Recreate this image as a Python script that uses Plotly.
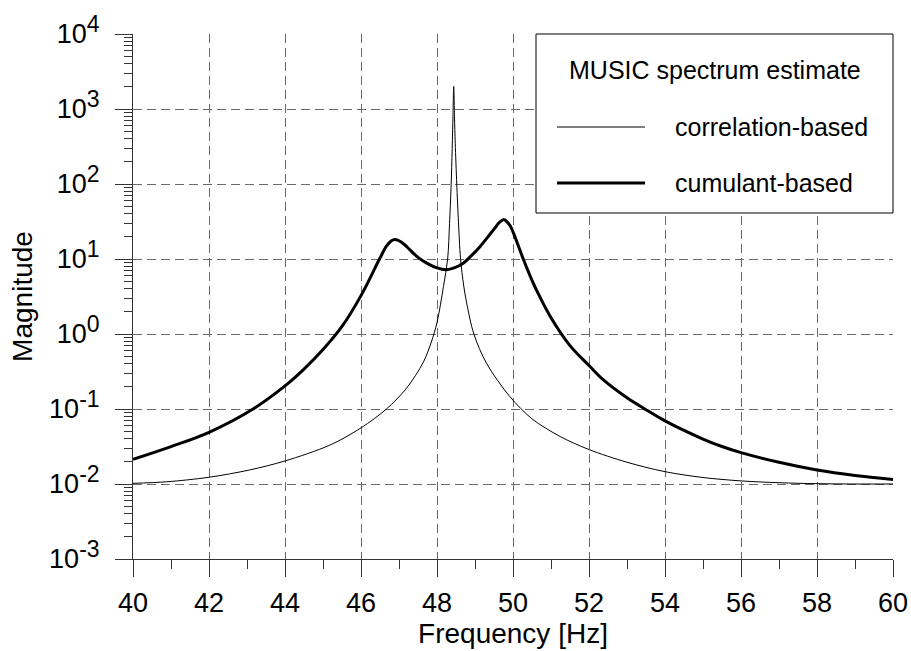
import plotly.graph_objects as go

# ---- data ----
corr_f = [40, 40.88, 42, 43.07, 44, 45.18, 46, 46.67, 47.2, 47.64, 47.85, 48.0, 48.17, 48.28,
          48.33, 48.37, 48.40, 48.42, 48.44, 48.46, 48.48, 48.52, 48.56, 48.62, 48.70,
          48.78, 48.97, 49.3, 49.92, 50.5, 51.24, 52, 53, 54, 55, 56, 57, 58, 59, 60]
corr_v = [0.0102, 0.0107, 0.0123, 0.0154, 0.0203, 0.033, 0.056, 0.10, 0.19, 0.42, 0.78, 1.42, 4.3, 10,
          30, 90, 300, 800, 2000, 800, 350, 100, 35, 10, 4.5,
          2.6, 1.0, 0.41, 0.146, 0.074, 0.043, 0.0288, 0.0195, 0.0146, 0.0122, 0.011, 0.0104, 0.0101, 0.0100, 0.0100]

cum_f = [40, 41, 42, 43.16, 44, 44.5, 45.0, 45.5, 46.0, 46.5, 46.67, 46.8, 46.89, 47.0, 47.15,
         47.29, 47.5, 47.73, 48.0, 48.25, 48.45, 48.69, 48.9, 49.13, 49.35, 49.5, 49.65, 49.76,
         49.85, 49.93, 50.0, 50.1, 50.27, 50.5, 50.71, 51.0, 51.5, 52.0, 52.38, 53.0, 53.5, 54.0,
         55.0, 55.5, 56, 57, 58, 59, 60]
cum_v = [0.0213, 0.0315, 0.0489, 0.1, 0.203, 0.34, 0.62, 1.26, 3.25, 10.3, 14.8, 17.5, 18.2, 17.5, 15.5,
         13.2, 10.5, 8.8, 7.6, 7.2, 7.6, 8.8, 11, 14.6, 20, 25, 31, 33.5,
         31, 27.5, 23, 17, 10, 5.2, 3.1, 1.65, 0.7, 0.38, 0.244, 0.141, 0.098, 0.0695,
         0.0398, 0.0316, 0.0262, 0.0195, 0.0154, 0.013, 0.0115]

x_ticks = [40, 42, 44, 46, 48, 50, 52, 54, 56, 58, 60]
y_exps = [-3, -2, -1, 0, 1, 2, 3, 4]
y_tickvals = [10.0 ** e for e in y_exps]
y_ticktext = ["10<sup><span style='font-size:23px'>%d</span></sup>" % e for e in y_exps]

legend_title = "MUSIC spectrum estimate"
legend_names = ["correlation-based", "cumulant-based"]
legend_widths = [1, 3]

FONT = "Liberation Sans, Arial, sans-serif"
GRID = "#6a6a6a"
AX = "#333333"

fig = go.Figure()
fig.add_trace(go.Scatter(x=corr_f, y=corr_v, mode="lines", name=legend_names[0],
                         line=dict(color="black", width=1, shape="spline", smoothing=0.9),
                         showlegend=False))
fig.add_trace(go.Scatter(x=cum_f, y=cum_v, mode="lines", name=legend_names[1],
                         line=dict(color="black", width=3, shape="spline", smoothing=1.0),
                         showlegend=False))

fig.update_layout(
    width=911, height=651,
    margin=dict(l=133, r=18, t=34, b=92),
    paper_bgcolor="white", plot_bgcolor="white",
    font=dict(family=FONT, color="black", size=27),
    showlegend=False,
)

fig.update_xaxes(
    range=[40, 60], tickvals=x_ticks, ticktext=[str(v) for v in x_ticks],
    showline=True, linecolor=AX, linewidth=1, mirror=False, automargin=False,
    ticks="outside", ticklen=17, tickcolor=AX, tickwidth=1,
    minor=dict(ticks="outside", ticklen=9, tickcolor=AX, dtick=1, tick0=40, showgrid=False),
    showgrid=True, gridcolor=GRID, griddash="9px,5px", gridwidth=1,
    zeroline=False, ticklabelstandoff=3,
    tickfont=dict(size=27, family=FONT, color="black"),
    title=dict(text="Frequency [Hz]", font=dict(size=28, family=FONT, color="black"), standoff=2),
)
fig.update_yaxes(
    type="log", range=[-3, 4], tickmode="array", tickvals=y_tickvals, ticktext=y_ticktext,
    showline=True, linecolor=AX, linewidth=1, mirror=False, automargin=False,
    ticks="outside", ticklen=17, tickcolor=AX, tickwidth=1,
    minor=dict(ticks="outside", ticklen=8, tickcolor=AX, dtick="D1", showgrid=False),
    showgrid=True, gridcolor=GRID, griddash="9px,5px", gridwidth=1,
    zeroline=False, ticklabelstandoff=10,
    tickfont=dict(size=27, family=FONT, color="black"),
    title=dict(text="Magnitude", font=dict(size=28, family=FONT, color="black"), standoff=8),
)

# ---- legend box drawn manually (paper coords) ----
W, H = 911, 651
l, r, t, b = 133, 18, 34, 92
pw, ph = W - l - r, H - t - b
def px(x):
    return (x - l) / pw
def py(y):
    return 1 - (y - t) / ph

fig.add_shape(type="rect", xref="paper", yref="paper",
              x0=px(536), x1=px(893), y0=py(213), y1=py(34),
              line=dict(color="black", width=1), fillcolor="white", layer="above")
fig.add_annotation(text=legend_title, xref="paper", yref="paper", x=px(715), y=py(70),
                   xanchor="center", yanchor="middle", showarrow=False,
                   font=dict(size=25, family=FONT, color="black"))
for i, (name, w) in enumerate(zip(legend_names, legend_widths)):
    yy = 127 + 56 * i
    fig.add_shape(type="line", xref="paper", yref="paper",
                  x0=px(557), x1=px(645), y0=py(yy), y1=py(yy),
                  line=dict(color="black", width=w), layer="above")
    fig.add_annotation(text=name, xref="paper", yref="paper", x=px(673), y=py(yy),
                       xanchor="left", yanchor="middle", showarrow=False,
                       font=dict(size=25, family=FONT, color="black"))

fig.write_html("out.html")
